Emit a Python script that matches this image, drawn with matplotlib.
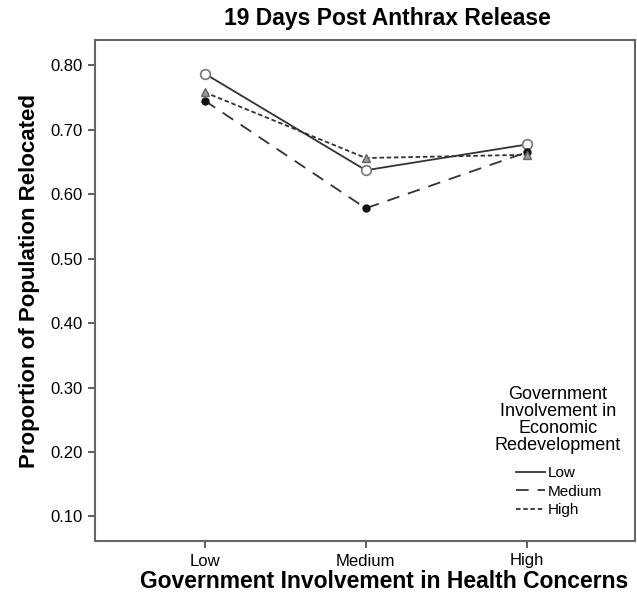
import matplotlib
matplotlib.use("Agg")
import matplotlib.pyplot as plt

# x categories: government involvement in health concerns
categorias = ["Low", "Medium", "High"]
# series: government involvement in economic redevelopment
serie_low = [0.787, 0.637, 0.677]
serie_medium = [0.745, 0.578, 0.665]
serie_high = [0.758, 0.656, 0.661]
ticks_y = [0.10, 0.20, 0.30, 0.40, 0.50, 0.60, 0.70, 0.80]

plt.rcParams["font.family"] = ["Liberation Sans", "DejaVu Sans"]

W, H = 637, 598
fig = plt.figure(figsize=(W / 100, H / 100), dpi=100)
ax = fig.add_axes([95 / W, 1 - 541 / H, 540 / W, 501 / H])

x = list(range(len(categorias)))
ax.plot(x, serie_low, color="#333333", lw=1.3, ls="-", marker="o", ms=7,
        mfc="white", mec="#777777", mew=1.2, label="Low")
ax.plot(x, serie_medium, color="#333333", lw=1.3, ls=(0, (7, 5)), marker="o", ms=5,
        mfc="#111111", mec="#111111", label="Medium")
ax.plot(x, serie_high, color="#333333", lw=1.3, ls=(0, (2.5, 1.5)), marker="^", ms=6,
        mfc="#999999", mec="#666666", label="High")

ax.set_xlim(-0.68, 2.67)
ax.set_ylim(0.062, 0.839)
ax.set_xticks(x)
ax.set_xticklabels(categorias, fontsize=12)
ax.set_yticks(ticks_y)
ax.set_yticklabels([f"{v:.2f}" for v in ticks_y], fontsize=12)
ax.tick_params(axis="both", length=5, width=1.2, color="#444444", pad=4)
for s in ax.spines.values():
    s.set_color("#666666")
    s.set_linewidth(1.5)

fig.text(387 / W, 1 - 18 / H, "19 Days Post Anthrax Release", fontsize=16.5,
         fontweight="bold", ha="center", va="center")
fig.text(384 / W, 1 - 581 / H, "Government Involvement in Health Concerns",
         fontsize=16.5, fontweight="bold", ha="center", va="center")
fig.text(30 / W, 1 - 281 / H, "Proportion of Population Relocated", fontsize=16,
         fontweight="bold", ha="center", va="center", rotation=90)

# legend title drawn separately so the gap to the entries can be matched
fig.text(558 / W, 1 - 420 / H, "Government\nInvolvement in\nEconomic\nRedevelopment",
         fontsize=13, ha="center", va="center", multialignment="center", linespacing=0.98)
leg = ax.legend(loc="upper left", bbox_to_anchor=(516 / W, 1 - 466 / H),
                bbox_transform=fig.transFigure, frameon=False, fontsize=11,
                handlelength=1.9, handletextpad=0.15, labelspacing=0.3,
                borderpad=0, borderaxespad=0)
for h in leg.legend_handles:
    h.set_marker("")

fig.savefig("out.png", dpi=100)
